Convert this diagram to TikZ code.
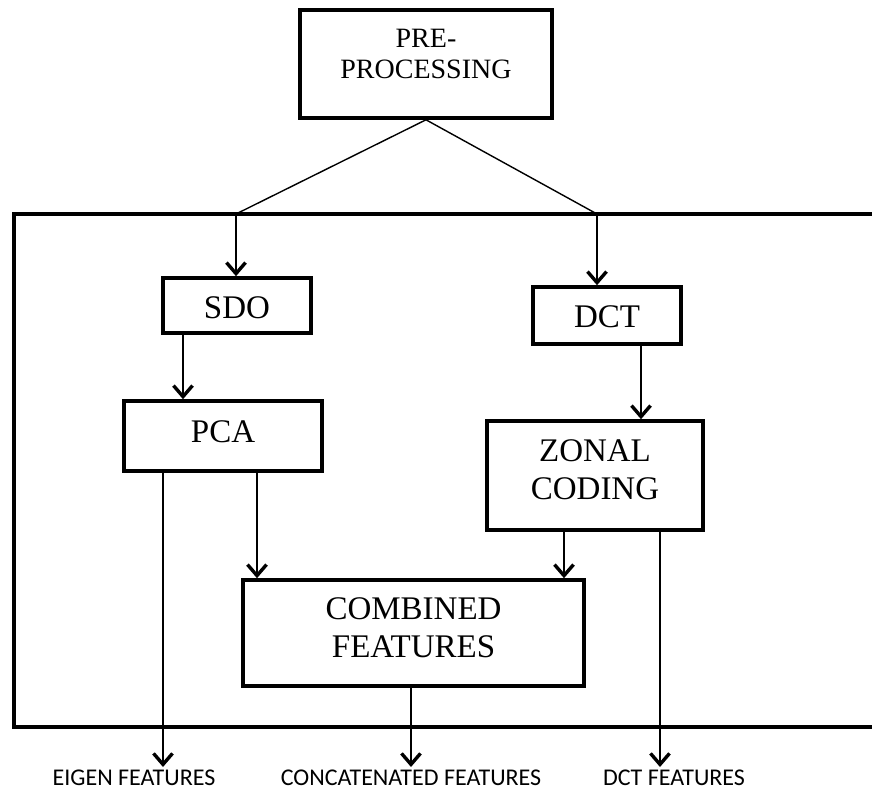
\documentclass[tikz,border=0pt]{standalone}
\usepackage{fontspec}
\setmainfont{Liberation Serif}
\newfontfamily\labfont{Carlito}
\usetikzlibrary{arrows.meta}
\begin{document}
\begin{tikzpicture}[x=1pt,y=-1pt,
  box/.style={draw, line width=3.6pt, rectangle, inner sep=0pt},
  txt/.style={align=center, inner sep=0pt, font=\fontsize{33}{38}\selectfont},
  conn/.style={line width=1.4pt},
  arr/.style={conn, -{Straight Barb[length=11pt,width=19pt,line width=3.4pt]}},
  lab/.style={anchor=base, inner sep=0pt, font=\labfont\fontsize{24}{26}\selectfont}]
\useasboundingbox (0,0) rectangle (872,791);

% enclosing frame (open on the right)
\draw[line width=3.8pt] (872,214) -- (14,214) -- (14,727) -- (872,727);

% boxes
\node[box, minimum width=252pt, minimum height=108pt] (pre) at (426,64) {};
\node[txt, font=\fontsize{28}{31}\selectfont] (pret) at (426,54) {PRE-\\PROCESSING};
\node[box, minimum width=148pt, minimum height=55pt] (sdo) at (237,305.5) {};
\node[txt] (sdot) at (237,307.5) {SDO};
\node[box, minimum width=148pt, minimum height=57pt] (dct) at (607,315.5) {};
\node[txt] (dctt) at (607,317) {DCT};
\node[box, minimum width=198pt, minimum height=70pt] (pca) at (223,436) {};
\node[txt] (pcat) at (223,432) {PCA};
\node[box, minimum width=216pt, minimum height=109pt] (zonal) at (595,475.5) {};
\node[txt] (zonalt) at (595,470) {ZONAL\\CODING};
\node[box, minimum width=341pt, minimum height=106pt] (comb) at (413.5,633) {};
\node[txt] (combt) at (413.5,628) {COMBINED\\FEATURES};

% junctions on frame top
\coordinate (jl) at (236,214);
\coordinate (jr) at (597,214);
\draw[conn] (pre.south) -- (jl);
\draw[conn] (pre.south) -- (jr);
\draw[arr] (jl) -- (jl |- sdo.north);
\draw[arr] (jr) -- (jr |- dct.north);

% internal arrows
\draw[arr] ([xshift=-54pt]sdo.south) -- ([xshift=-54pt]sdo.south |- pca.north);
\draw[arr] ([xshift=34pt]dct.south) -- ([xshift=34pt]dct.south |- zonal.north);
\draw[arr] ([xshift=34pt]pca.south) -- ([xshift=34pt]pca.south |- comb.north);
\draw[arr] ([xshift=-31pt]zonal.south) -- ([xshift=-31pt]zonal.south |- comb.north);

% outputs
\coordinate (eend) at (163,767);
\coordinate (cend) at (411,767);
\coordinate (dend) at (660,767);
\draw[arr] ([xshift=-60pt]pca.south) -- (eend);
\draw[arr] ([xshift=-2.5pt]comb.south) -- (cend);
\draw[arr] ([xshift=65pt]zonal.south) -- (dend);

\node[lab] (eig) at (134,785) {EIGEN FEATURES};
\node[lab] (cat) at (411,785) {CONCATENATED FEATURES};
\node[lab] (dcf) at (674,785) {DCT FEATURES};
\end{tikzpicture}
\end{document}
